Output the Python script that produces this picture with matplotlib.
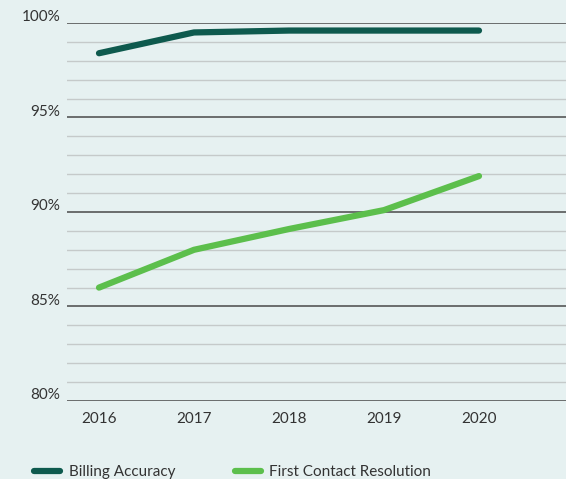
import numpy as np
import matplotlib.pyplot as plt
from matplotlib.lines import Line2D

years = ['2016', '2017', '2018', '2019', '2020']
billing = [98.4, 99.5, 99.6, 99.6, 99.6]
first_contact = [86.0, 88.0, 89.1, 90.1, 91.9]
yticks = [80, 85, 90, 95, 100]

bg = '#e6f1f1'
dark = '#0e5a4e'
light = '#5cbf4c'

plt.rcParams['font.family'] = ['Lato', 'DejaVu Sans']

fig = plt.figure(figsize=(5.66, 4.79), dpi=100)
fig.patch.set_facecolor(bg)
ax = fig.add_axes([67 / 566, 1 - 401 / 479, 1 - 67 / 566, (401 - 23) / 479])
ax.set_facecolor(bg)

x = np.arange(len(years))
ax.set_xlim(-32 / 95, len(years) - 1 + 87 / 95)
ax.set_ylim(80, 100)

# gridlines: light every 1%, dark every 5%
for v in range(80, 101):
    if v % 5 == 0:
        ax.axhline(v, color='#6a6d6d', lw=1.4, zorder=1)
    else:
        ax.axhline(v, color='#c5caca', lw=1.0, zorder=1)

ax.plot(x, billing, color=dark, lw=4.5, solid_capstyle='round', zorder=3, clip_on=False)
ax.plot(x, first_contact, color=light, lw=4.5, solid_capstyle='round', zorder=3, clip_on=False)

for s in ax.spines.values():
    s.set_visible(False)
ax.set_xticks(x)
ax.set_xticklabels(years, fontsize=11, color='#333333')
ax.tick_params(axis='x', length=0, pad=8)
ax.set_yticks([])
for v in yticks:
    ax.annotate(f'{v}%', xy=(0, v), xycoords=('axes fraction', 'data'),
                xytext=(-5, 4), textcoords='offset points', ha='right', va='center',
                fontsize=11, color='#333333')

handles = [Line2D([], [], color=dark, lw=4.5, solid_capstyle='round'),
           Line2D([], [], color=light, lw=4.5, solid_capstyle='round')]
fig.legend(handles, ['Billing Accuracy', 'First Contact Resolution'],
           loc='lower left', bbox_to_anchor=(0.036, -0.029), ncol=2, frameon=False,
           fontsize=11, handlelength=1.7, handletextpad=0.55, columnspacing=3.9,
           labelcolor='#333333')

fig.savefig('out.png', dpi=100, facecolor=bg)
